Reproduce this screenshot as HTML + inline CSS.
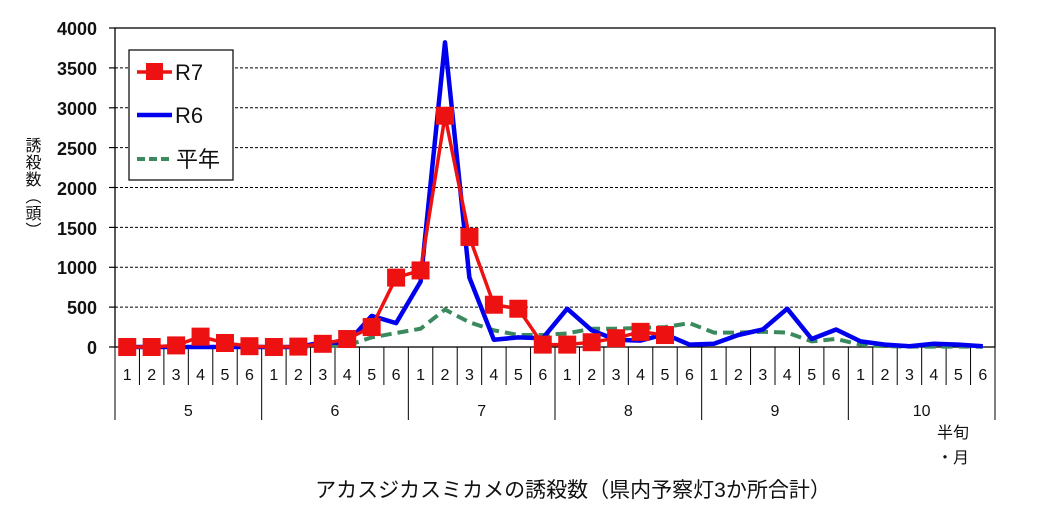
<!DOCTYPE html>
<html><head><meta charset="utf-8"><style>
html,body{margin:0;padding:0;background:#fff;width:1060px;height:520px;overflow:hidden}
svg{display:block}
</style></head><body>
<svg width="1060" height="520" xmlns="http://www.w3.org/2000/svg" font-family="'Liberation Sans','Noto Sans CJK JP',sans-serif">
<rect width="1060" height="520" fill="#fff"/>
<g stroke="#000" stroke-width="1" stroke-dasharray="3,2">
<line x1="115" x2="995" y1="67.9" y2="67.9"/><line x1="115" x2="995" y1="107.8" y2="107.8"/>
<line x1="115" x2="995" y1="147.6" y2="147.6"/><line x1="115" x2="995" y1="187.5" y2="187.5"/>
<line x1="115" x2="995" y1="227.4" y2="227.4"/><line x1="115" x2="995" y1="267.3" y2="267.3"/>
<line x1="115" x2="995" y1="307.1" y2="307.1"/>
</g>
<rect x="115" y="28" width="880" height="319" fill="none" stroke="#000" stroke-width="1.3"/>
<g stroke="#000" stroke-width="1.2">
<line x1="109" x2="115" y1="28" y2="28"/><line x1="109" x2="115" y1="67.9" y2="67.9"/><line x1="109" x2="115" y1="107.8" y2="107.8"/><line x1="109" x2="115" y1="147.6" y2="147.6"/><line x1="109" x2="115" y1="187.5" y2="187.5"/><line x1="109" x2="115" y1="227.4" y2="227.4"/><line x1="109" x2="115" y1="267.3" y2="267.3"/><line x1="109" x2="115" y1="307.1" y2="307.1"/><line x1="109" x2="115" y1="347" y2="347"/>
</g>
<g font-size="18" font-weight="bold" text-anchor="end" fill="#111">
<text x="97" y="35">4000</text><text x="97" y="75">3500</text><text x="97" y="115">3000</text><text x="97" y="155">2500</text><text x="97" y="195">2000</text><text x="97" y="235">1500</text><text x="97" y="274">1000</text><text x="97" y="314">500</text><text x="97" y="354">0</text>
</g>
<text x="31" y="137" font-size="16" fill="#111" writing-mode="tb" style="writing-mode:vertical-rl" letter-spacing="1">誘殺数（頭）</text>
<g id="ax" stroke="#000" stroke-width="1"></g>
<g id="lab" font-size="16" fill="#111" text-anchor="middle"></g>
<g font-size="16" fill="#111"><text x="937" y="438">半旬</text><text x="937" y="463">・月</text></g>
<text x="573" y="497" font-size="21" text-anchor="middle" fill="#111">アカスジカスミカメの誘殺数（県内予察灯3か所合計）</text>
<polyline id="pn" fill="none" stroke="#3a8a5e" stroke-width="4" stroke-dasharray="11,6"/>
<polyline id="r6" fill="none" stroke="#0000ee" stroke-width="4.5" stroke-linejoin="round"/>
<polyline id="r7" fill="none" stroke="#ee1111" stroke-width="3.5"/>
<g id="sq" fill="#ee1111"></g>
<rect x="129" y="50" width="104" height="130" fill="#fff" stroke="#000" stroke-width="1.2"/>
<line x1="137" x2="172" y1="72" y2="72" stroke="#ee1111" stroke-width="3.5"/><rect x="146" y="63" width="17" height="17" fill="#ee1111"/>
<text x="175" y="80" font-size="22" fill="#111">R7</text>
<line x1="137" x2="172" y1="115" y2="115" stroke="#0000ee" stroke-width="4.5"/>
<text x="175" y="123" font-size="22" fill="#111">R6</text>
<line x1="137" x2="172" y1="159" y2="159" stroke="#3a8a5e" stroke-width="4" stroke-dasharray="8,4"/>
<text x="176" y="167" font-size="22" fill="#111">平年</text>
<script>
var ns="http://www.w3.org/2000/svg",W=880/36;
function X(i){return 115+W*(i+0.5)}function Y(v){return 347-v*0.07975}
var ax=document.getElementById('ax'),lab=document.getElementById('lab');
function L(x1,y1,x2,y2){var l=document.createElementNS(ns,'line');l.setAttribute('x1',x1);l.setAttribute('y1',y1);l.setAttribute('x2',x2);l.setAttribute('y2',y2);ax.appendChild(l);}
function T(x,y,s){var t=document.createElementNS(ns,'text');t.setAttribute('x',x);t.setAttribute('y',y);t.textContent=s;lab.appendChild(t);}
for(var i=0;i<=36;i++){var x=115+W*i;L(x,347,x,i%6==0?420:385);if(i<36)T(X(i),380,(i%6)+1);}
for(var m=0;m<6;m++)T(115+W*(6*m+3),416,m+5);
var r7=[0,0,20,130,50,10,0,5,40,100,250,870,960,2900,1380,530,480,30,30,60,110,190,150];
var r6=[0,0,0,0,0,0,0,0,60,50,390,300,820,3820,870,90,120,110,480,210,90,80,160,30,40,150,220,480,100,220,70,30,10,40,30,10];
var pn=[0,0,0,0,0,0,0,0,10,20,120,175,230,470,310,210,150,150,170,230,230,240,250,300,180,180,190,180,70,100,30,10,5,5,5,5];
function pts(a){return a.map(function(v,i){return X(i).toFixed(1)+','+Y(v).toFixed(1)}).join(' ')}
document.getElementById('r7').setAttribute('points',pts(r7));
document.getElementById('r6').setAttribute('points',pts(r6));
document.getElementById('pn').setAttribute('points',pts(pn));
var sq=document.getElementById('sq');
r7.forEach(function(v,i){var r=document.createElementNS(ns,'rect');r.setAttribute('x',X(i)-9);r.setAttribute('y',Y(v)-9);r.setAttribute('width',18);r.setAttribute('height',18);sq.appendChild(r);});
</script>
</svg>
</body></html>
